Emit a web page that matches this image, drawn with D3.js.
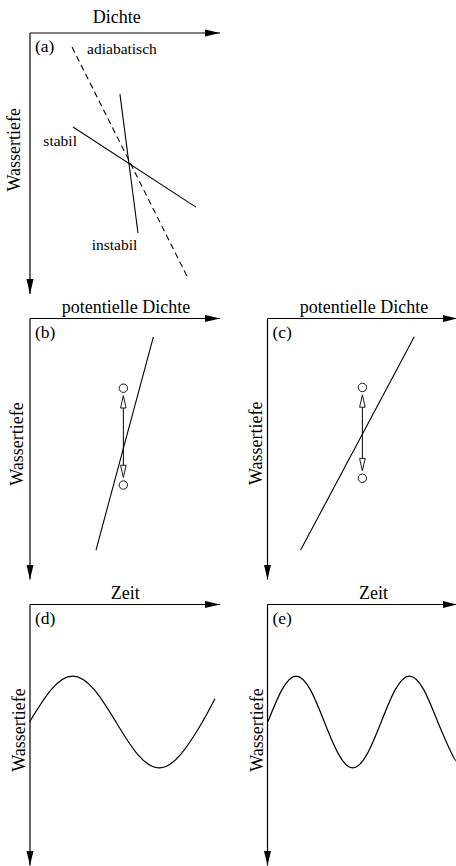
<!DOCTYPE html>
<html><head><meta charset="utf-8">
<script src="https://cdn.jsdelivr.net/npm/d3@7"></script>
<style>html,body{margin:0;padding:0;background:#fff;overflow:hidden}svg{display:block}</style>
</head><body><div id="chart"></div>
<script>
// ---------------- data (axis units 0..100 along each axis) ----------------
const panelTags = ['(a)', '(b)', '(c)', '(d)', '(e)'];
const xAxisLabels = ['Dichte', 'potentielle Dichte', 'potentielle Dichte', 'Zeit', 'Zeit'];
const yAxisLabel = 'Wassertiefe';

// panel (a): density profiles [start, end]
const adiabatX = [22.4, 83.4], adiabatY = [5.6, 94.1];
const stabilX = [22.9, 87.6], stabilY = [36.2, 66.9];
const instabilX = [47.6, 57.1], instabilY = [23.6, 76.8];
const annotTexts = ['adiabatisch', 'stabil', 'instabil'];
const annotX = [30.3, 7.3, 32.7];
const annotY = [8.2, 43.4, 83.3];

// panels (b), (c): potential density profiles and displaced parcels
const profileBX = [65.2, 35.0], profileBY = [7.2, 88.9];
const profileCX = [77.5, 17.7], profileCY = [7.2, 88.9];
const parcelBX = 49.4, parcelBY = [26.9, 64.0];
const parcelCX = 50.2, parcelCY = [26.6, 61.4];

// panels (d), (e): oscillation of depth in time
const timeD = [0, 11.4, 22.7, 34.1, 45.5, 56.9, 68.2, 79.6, 91.0, 97.6];
const depthD = [45.2, 32.8, 27.6, 32.8, 45.2, 57.6, 62.8, 57.6, 45.2, 36.3];
const timeE = [0.4, 7.9, 15.3, 22.8, 30.2, 37.7, 45.1, 52.6, 60.1, 67.5, 75.0, 82.5, 89.9, 97.4, 99.5];
const depthE = [45.2, 32.8, 27.6, 32.8, 45.2, 57.6, 62.8, 57.6, 45.2, 32.8, 27.6, 32.8, 45.2, 57.6, 60.0];

// ---------------- layout ----------------
const W = 456, H = 866, PW = 190, PH = 261;
const origins = [[29.5, 32.5], [29.5, 318], [267, 318], [29.5, 604], [267, 604]];
const xLabelAt = [45.9, 50.8, 51.0, 50.4, 56.0];
const xLabelGap = [9.5, 5.5, 5.5, 5.0, 5.0];
const yLabelAt = [44.9, 48.3, 48.0, 48.3, 48.3];
const yLabelGap = [9.5, 6.5, 5.5, 5.0, 4.0];
const FONT = "'Liberation Serif','Times New Roman',serif";

const svg = d3.select('#chart').append('svg').attr('width', W).attr('height', H);
svg.append('rect').attr('width', W).attr('height', H).attr('fill', '#fff');

svg.append('defs').append('marker')
  .attr('id', 'ah').attr('markerUnits', 'userSpaceOnUse')
  .attr('viewBox', '0 -4 15 8').attr('refX', 15).attr('refY', 0)
  .attr('markerWidth', 15).attr('markerHeight', 8).attr('orient', 'auto')
  .append('path').attr('d', 'M0,-3.6L15,0L0,3.6Z').attr('fill', '#000');

const scales = origins.map(([ox, oy]) => ({
  x: d3.scaleLinear().domain([0, 100]).range([ox, ox + PW]),
  y: d3.scaleLinear().domain([0, 100]).range([oy, oy + PH])
}));

origins.forEach(([ox, oy], i) => {
  const s = scales[i];
  const g = svg.append('g');
  const ax = g.append('g').attr('transform', `translate(0,${oy})`)
    .call(d3.axisTop(s.x).tickValues([]).tickSizeOuter(0));
  const ay = g.append('g').attr('transform', `translate(${ox},0)`)
    .call(d3.axisLeft(s.y).tickValues([]).tickSizeOuter(0));
  [ax, ay].forEach(a => a.select('.domain')
    .attr('stroke', '#000').attr('stroke-width', 1.2).attr('marker-end', 'url(#ah)'));

  g.append('text').attr('x', s.x(xLabelAt[i])).attr('y', oy - xLabelGap[i])
    .attr('text-anchor', 'middle').attr('font-family', FONT).attr('font-size', 18)
    .text(xAxisLabels[i]);
  g.append('text')
    .attr('transform', `translate(${ox - yLabelGap[i]},${s.y(yLabelAt[i])}) rotate(-90)`)
    .attr('text-anchor', 'middle').attr('font-family', FONT).attr('font-size', 18)
    .text(yAxisLabel);
  g.append('text').attr('x', ox + 5.5).attr('y', oy + 19.5)
    .attr('font-family', FONT).attr('font-size', 17.5).text(panelTags[i]);
});

const seg = (s, xs, ys) => d3.line().x(d => s.x(d[0])).y(d => s.y(d[1]))(d3.zip(xs, ys));

// panel (a)
const sa = scales[0];
svg.append('path').attr('d', seg(sa, adiabatX, adiabatY)).attr('fill', 'none')
  .attr('stroke', '#000').attr('stroke-width', 1.1).attr('stroke-dasharray', '6,4');
[[stabilX, stabilY], [instabilX, instabilY]].forEach(([xs, ys]) =>
  svg.append('path').attr('d', seg(sa, xs, ys)).attr('fill', 'none')
    .attr('stroke', '#000').attr('stroke-width', 1.1));
annotTexts.forEach((t, k) =>
  svg.append('text').attr('x', sa.x(annotX[k])).attr('y', sa.y(annotY[k]))
    .attr('font-family', FONT).attr('font-size', 15.5).text(t));

// panels (b), (c)
function parcel(s, px, pys, prof) {
  svg.append('path').attr('d', seg(s, prof[0], prof[1])).attr('fill', 'none')
    .attr('stroke', '#000').attr('stroke-width', 1.1);
  const cx = s.x(px), y1 = s.y(pys[0]), y2 = s.y(pys[1]);
  const r = 4.2, gap = 7.5, len = 12.3, hw = 2.8;
  const t1 = y1 + gap, b1 = t1 + len, t2 = y2 - gap, b2 = t2 - len;
  svg.append('line').attr('x1', cx).attr('x2', cx).attr('y1', b1).attr('y2', b2)
    .attr('stroke', '#000').attr('stroke-width', 1);
  [[t1, b1], [t2, b2]].forEach(([t, b]) =>
    svg.append('path').attr('d', `M${cx},${t}L${cx - hw},${b}L${cx + hw},${b}Z`)
      .attr('fill', '#fff').attr('stroke', '#000').attr('stroke-width', 0.9));
  [y1, y2].forEach(cy => svg.append('circle').attr('cx', cx).attr('cy', cy).attr('r', r)
    .attr('fill', '#fff').attr('stroke', '#000').attr('stroke-width', 0.9));
}
parcel(scales[1], parcelBX, parcelBY, [profileBX, profileBY]);
parcel(scales[2], parcelCX, parcelCY, [profileCX, profileCY]);

// panels (d), (e)
[[scales[3], timeD, depthD], [scales[4], timeE, depthE]].forEach(([s, xs, ys]) =>
  svg.append('path')
    .attr('d', d3.line().curve(d3.curveNatural).x(d => s.x(d[0])).y(d => s.y(d[1]))(d3.zip(xs, ys)))
    .attr('fill', 'none').attr('stroke', '#000').attr('stroke-width', 1.2));
</script></body></html>
